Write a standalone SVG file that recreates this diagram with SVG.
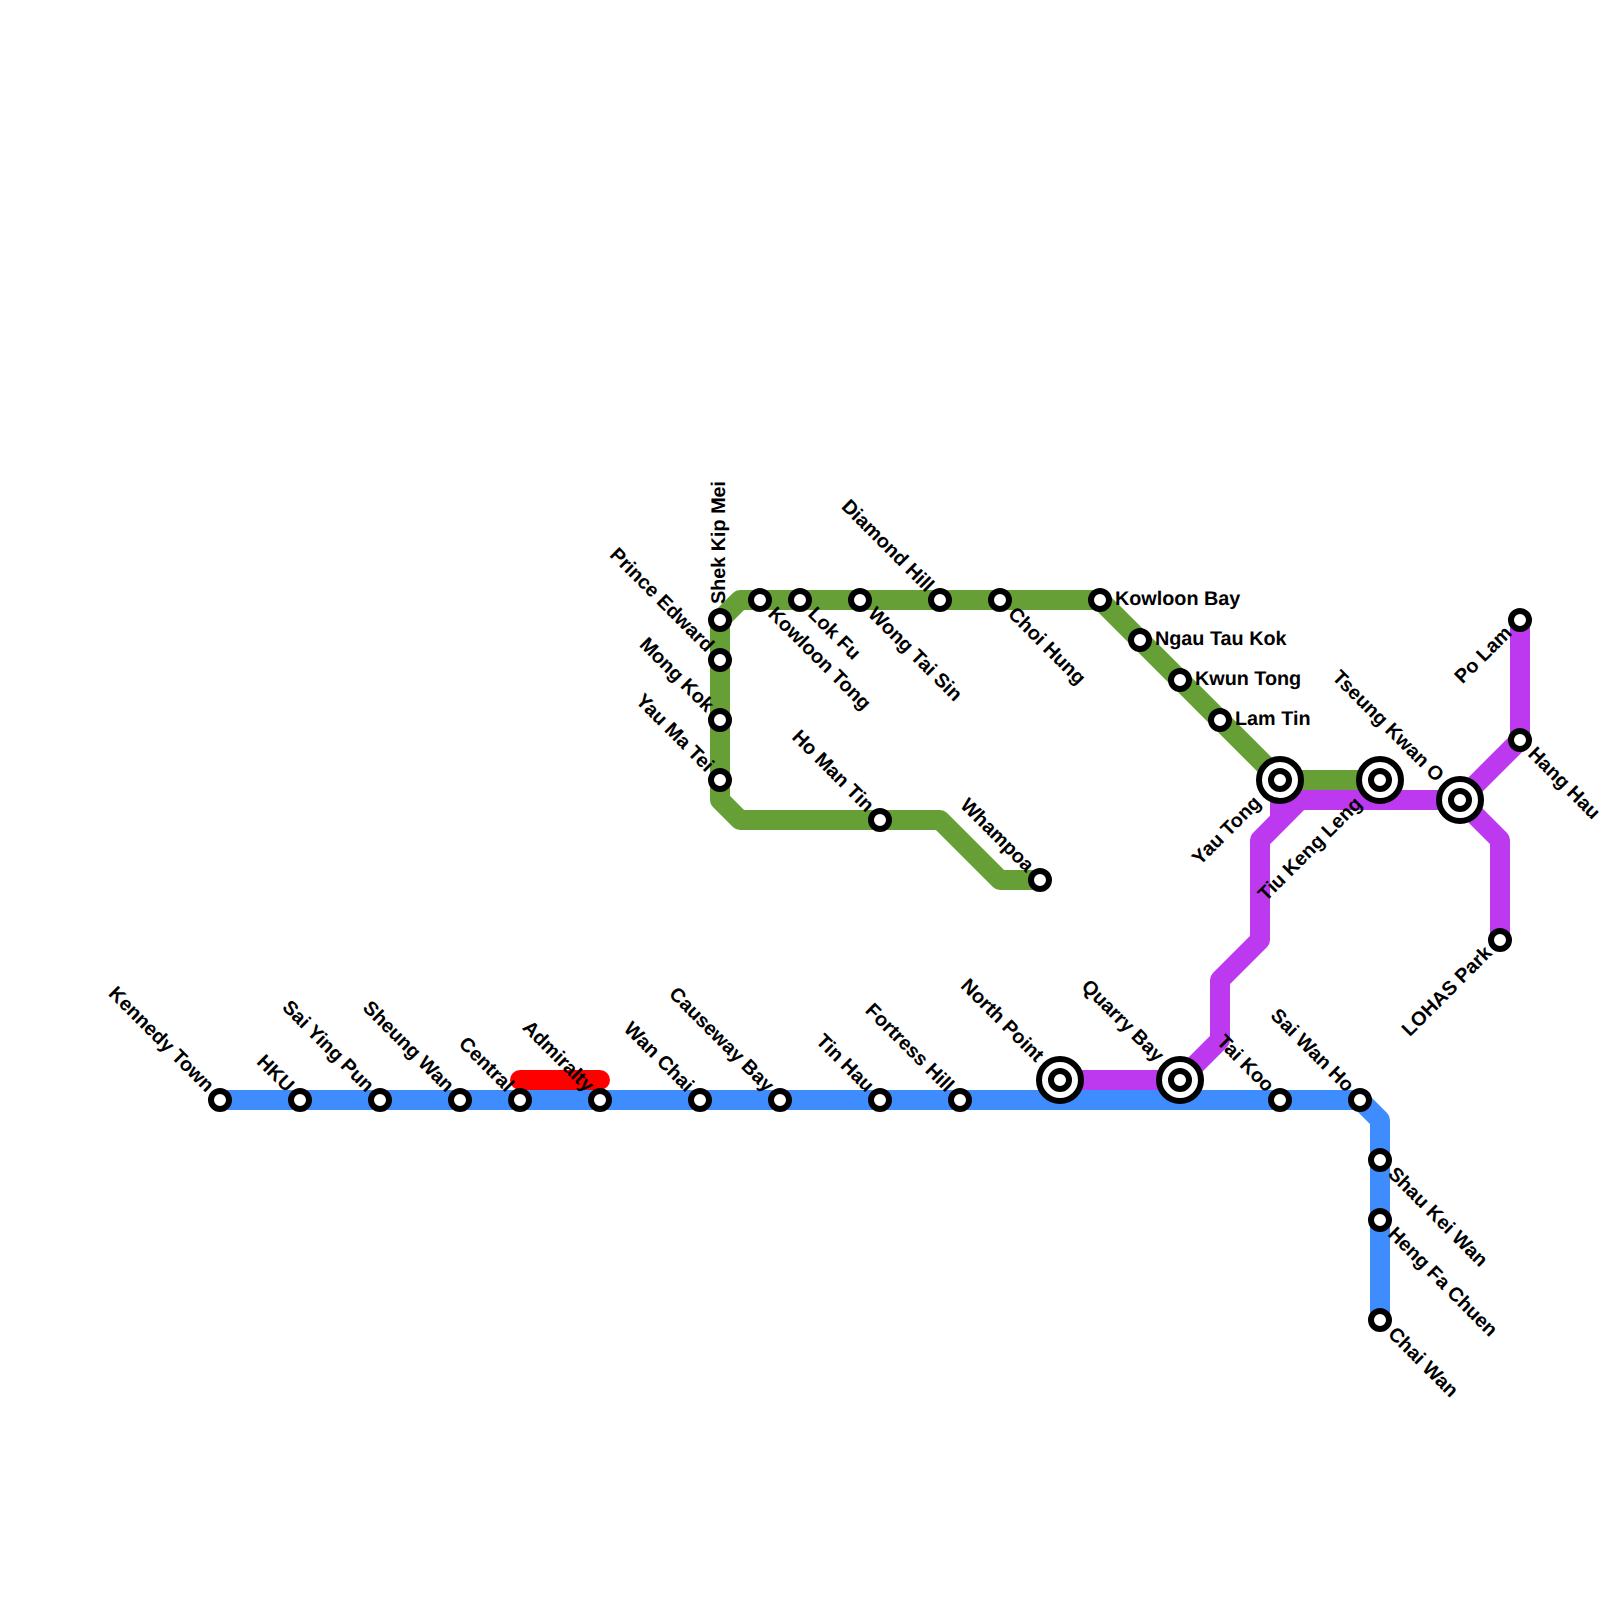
<svg xmlns="http://www.w3.org/2000/svg" width="1600" height="1600" viewBox="0 0 1600 1600">
<style>
.l{fill:none;stroke-width:20;stroke-linejoin:round;stroke-linecap:butt}
.s circle{fill:#fff;stroke:#000;stroke-width:6}
text{font-family:"Liberation Sans",Arial,sans-serif;font-size:19.8px;font-weight:bold;fill:#000;text-rendering:geometricPrecision}
.e{text-anchor:end}
</style>
<g id="connectors">
<path class="l" stroke="#ff0000" d="M520 1080H600" style="stroke-linecap:round"/>
<path class="l" stroke="#669f35" d="M1040 880H1000L940 820H740L720 800V620L740 600H1100L1280 780H1380"/>
<path class="l" stroke="#bd39f0" d="M1060 1080H1180L1220 1040V980L1260 940V840L1300 800H1460L1520 740V620"/>
<path class="l" stroke="#bd39f0" d="M1280 780V820"/>
<path class="l" stroke="#bd39f0" d="M1280 800H1300"/>
<path class="l" stroke="#bd39f0" d="M1460 800L1500 840V940"/>
<path class="l" stroke="#3f8cff" d="M220 1100H1360L1380 1120V1320"/>
</g>
<g id="n-kennedy-town" class="s"><circle cx="220" cy="1100" r="9"/><text class="e" transform="translate(206 1093) rotate(45)">Kennedy Town</text></g>
<g id="n-hku" class="s"><circle cx="300" cy="1100" r="9"/><text class="e" transform="translate(286 1093) rotate(45)">HKU</text></g>
<g id="n-sai-ying-pun" class="s"><circle cx="380" cy="1100" r="9"/><text class="e" transform="translate(366 1093) rotate(45)">Sai Ying Pun</text></g>
<g id="n-sheung-wan" class="s"><circle cx="460" cy="1100" r="9"/><text class="e" transform="translate(446 1093) rotate(45)">Sheung Wan</text></g>
<g id="n-central" class="s"><circle cx="520" cy="1100" r="9"/><text class="e" transform="translate(506 1093) rotate(45)">Central</text></g>
<g id="n-admiralty" class="s"><circle cx="600" cy="1100" r="9"/><text class="e" transform="translate(586 1093) rotate(45)">Admiralty</text></g>
<g id="n-wan-chai" class="s"><circle cx="700" cy="1100" r="9"/><text class="e" transform="translate(686 1093) rotate(45)">Wan Chai</text></g>
<g id="n-causeway-bay" class="s"><circle cx="780" cy="1100" r="9"/><text class="e" transform="translate(766 1093) rotate(45)">Causeway Bay</text></g>
<g id="n-tin-hau" class="s"><circle cx="880" cy="1100" r="9"/><text class="e" transform="translate(866 1093) rotate(45)">Tin Hau</text></g>
<g id="n-fortress-hill" class="s"><circle cx="960" cy="1100" r="9"/><text class="e" transform="translate(946 1093) rotate(45)">Fortress Hill</text></g>
<g id="n-north-point" class="s"><circle cx="1060" cy="1080" r="21"/><circle cx="1060" cy="1080" r="9"/><text class="e" transform="translate(1036 1063) rotate(45)">North Point</text></g>
<g id="n-quarry-bay" class="s"><circle cx="1180" cy="1080" r="21"/><circle cx="1180" cy="1080" r="9"/><text class="e" transform="translate(1156 1063) rotate(45)">Quarry Bay</text></g>
<g id="n-tai-koo" class="s"><circle cx="1280" cy="1100" r="9"/><text class="e" transform="translate(1266 1093) rotate(45)">Tai Koo</text></g>
<g id="n-sai-wan-ho" class="s"><circle cx="1360" cy="1100" r="9"/><text class="e" transform="translate(1346 1093) rotate(45)">Sai Wan Ho</text></g>
<g id="n-shau-kei-wan" class="s"><circle cx="1380" cy="1160" r="9"/><text transform="translate(1387 1175) rotate(45)">Shau Kei Wan</text></g>
<g id="n-heng-fa-chuen" class="s"><circle cx="1380" cy="1220" r="9"/><text transform="translate(1387 1235) rotate(45)">Heng Fa Chuen</text></g>
<g id="n-chai-wan" class="s"><circle cx="1380" cy="1320" r="9"/><text transform="translate(1387 1335) rotate(45)">Chai Wan</text></g>
<g id="n-yau-ma-tei" class="s"><circle cx="720" cy="780" r="9"/><text class="e" transform="translate(706 773) rotate(45)">Yau Ma Tei</text></g>
<g id="n-mong-kok" class="s"><circle cx="720" cy="720" r="9"/><text class="e" transform="translate(706 713) rotate(45)">Mong Kok</text></g>
<g id="n-prince-edward" class="s"><circle cx="720" cy="660" r="9"/><text class="e" transform="translate(706 653) rotate(45)">Prince Edward</text></g>
<g id="n-shek-kip-mei" class="s"><circle cx="720" cy="620" r="9"/><text transform="translate(725 604) rotate(-90)">Shek Kip Mei</text></g>
<g id="n-kowloon-tong" class="s"><circle cx="760" cy="600" r="9"/><text transform="translate(767 615) rotate(45)">Kowloon Tong</text></g>
<g id="n-lok-fu" class="s"><circle cx="800" cy="600" r="9"/><text transform="translate(807 615) rotate(45)">Lok Fu</text></g>
<g id="n-wong-tai-sin" class="s"><circle cx="860" cy="600" r="9"/><text transform="translate(867 615) rotate(45)">Wong Tai Sin</text></g>
<g id="n-diamond-hill" class="s"><circle cx="940" cy="600" r="9"/><text class="e" transform="translate(926 593) rotate(45)">Diamond Hill</text></g>
<g id="n-choi-hung" class="s"><circle cx="1000" cy="600" r="9"/><text transform="translate(1007 615) rotate(45)">Choi Hung</text></g>
<g id="n-kowloon-bay" class="s"><circle cx="1100" cy="600" r="9"/><text x="1115" y="605">Kowloon Bay</text></g>
<g id="n-ngau-tau-kok" class="s"><circle cx="1140" cy="640" r="9"/><text x="1155" y="645">Ngau Tau Kok</text></g>
<g id="n-kwun-tong" class="s"><circle cx="1180" cy="680" r="9"/><text x="1195" y="685">Kwun Tong</text></g>
<g id="n-lam-tin" class="s"><circle cx="1220" cy="720" r="9"/><text x="1235" y="725">Lam Tin</text></g>
<g id="n-yau-tong" class="s"><circle cx="1280" cy="780" r="21"/><circle cx="1280" cy="780" r="9"/><text class="e" transform="translate(1262 804) rotate(-45)">Yau Tong</text></g>
<g id="n-tiu-keng-leng" class="s"><circle cx="1380" cy="780" r="21"/><circle cx="1380" cy="780" r="9"/><text class="e" transform="translate(1363 805) rotate(-45)">Tiu Keng Leng</text></g>
<g id="n-tseung-kwan-o" class="s"><circle cx="1460" cy="800" r="21"/><circle cx="1460" cy="800" r="9"/><text class="e" transform="translate(1436 783) rotate(45)">Tseung Kwan O</text></g>
<g id="n-ho-man-tin" class="s"><circle cx="880" cy="820" r="9"/><text class="e" transform="translate(866 813) rotate(45)">Ho Man Tin</text></g>
<g id="n-whampoa" class="s"><circle cx="1040" cy="880" r="9"/><text class="e" transform="translate(1026 873) rotate(45)">Whampoa</text></g>
<g id="n-po-lam" class="s"><circle cx="1520" cy="620" r="9"/><text class="e" transform="translate(1513 634) rotate(-45)">Po Lam</text></g>
<g id="n-hang-hau" class="s"><circle cx="1520" cy="740" r="9"/><text transform="translate(1527 755) rotate(45)">Hang Hau</text></g>
<g id="n-lohas-park" class="s"><circle cx="1500" cy="940" r="9"/><text class="e" transform="translate(1493 954) rotate(-45)">LOHAS Park</text></g>
</svg>
